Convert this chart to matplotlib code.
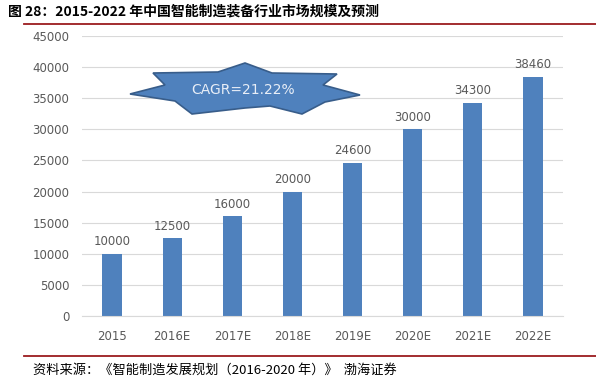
import numpy as np
import matplotlib.pyplot as plt
from matplotlib.patches import Polygon
from matplotlib.lines import Line2D

plt.rcParams['font.family'] = ['Noto Sans CJK SC', 'DejaVu Sans']

# 数据
years = ['2015', '2016E', '2017E', '2018E', '2019E', '2020E', '2021E', '2022E']
market_size = [10000, 12500, 16000, 20000, 24600, 30000, 34300, 38460]
y_ticks = list(range(0, 45001, 5000))
cagr_text = 'CAGR=21.22%'
title_text = '图 28：2015-2022 年中国智能制造装备行业市场规模及预测'
source_text = '资料来源：《智能制造发展规划（2016-2020 年）》  渤海证券'

W, H = 596, 391
fig = plt.figure(figsize=(W / 100, H / 100), dpi=100)
ax = fig.add_axes([82 / W, 1 - 316 / H, (563 - 82) / W, (316 - 36) / H])

bar_color = '#4F81BD'
grey = '#595959'
x = np.arange(len(years))
bars = ax.bar(x, market_size, width=0.32, color=bar_color, zorder=2)
for xi, v in zip(x, market_size):
    ax.text(xi, v + 900, str(v), ha='center', va='bottom', fontsize=8.5,
            color=grey, family='DejaVu Sans')

ax.set_xlim(-0.5, len(years) - 0.5)
ax.set_ylim(0, 45000)
ax.set_yticks(y_ticks)
ax.set_xticks(x)
ax.set_xticklabels(years)
ax.yaxis.grid(True, color='#D9D9D9', linewidth=0.8, zorder=0)
ax.set_axisbelow(True)
for s in ['top', 'right', 'left']:
    ax.spines[s].set_visible(False)
ax.spines['bottom'].set_color('#D9D9D9')
ax.tick_params(axis='both', length=0, labelsize=8.5, colors=grey)
ax.tick_params(axis='y', pad=9)
ax.tick_params(axis='x', pad=10)
for lab in ax.get_xticklabels() + ax.get_yticklabels():
    lab.set_family('DejaVu Sans')

# 星形标注
def px(p):
    return (p[0] / W, 1 - p[1] / H)

star_pts = [(130, 94), (165, 85), (153, 73), (218, 72), (245, 63), (272, 73),
            (337, 74), (323, 85), (360, 95), (325, 102), (302, 114), (270, 106),
            (245, 108), (192, 114), (175, 101)]
star = Polygon([px(p) for p in star_pts], closed=True, transform=fig.transFigure,
               facecolor=bar_color, edgecolor='#385D8A', linewidth=1.2, zorder=5)
fig.patches.append(star)
fig.text(243 / W, 1 - 90 / H, cagr_text, ha='center', va='center', fontsize=10,
         color='#E8EEF7', family='DejaVu Sans', zorder=6)

# 标题与来源
fig.text(8 / W, 1 - 11 / H, title_text, ha='left', va='center', fontsize=10,
         fontweight='bold', color='black')
fig.lines.append(Line2D([24 / W, 1], [1 - 24 / H] * 2, transform=fig.transFigure,
                        color='#9B1B1F', linewidth=1.3))
fig.lines.append(Line2D([24 / W, 1], [1 - 356 / H] * 2, transform=fig.transFigure,
                        color='#9B1B1F', linewidth=1.3))
fig.text(33 / W, 1 - 370 / H, source_text, ha='left', va='center', fontsize=9.5,
         style='italic', color='black')

fig.savefig('out.png', dpi=100)
